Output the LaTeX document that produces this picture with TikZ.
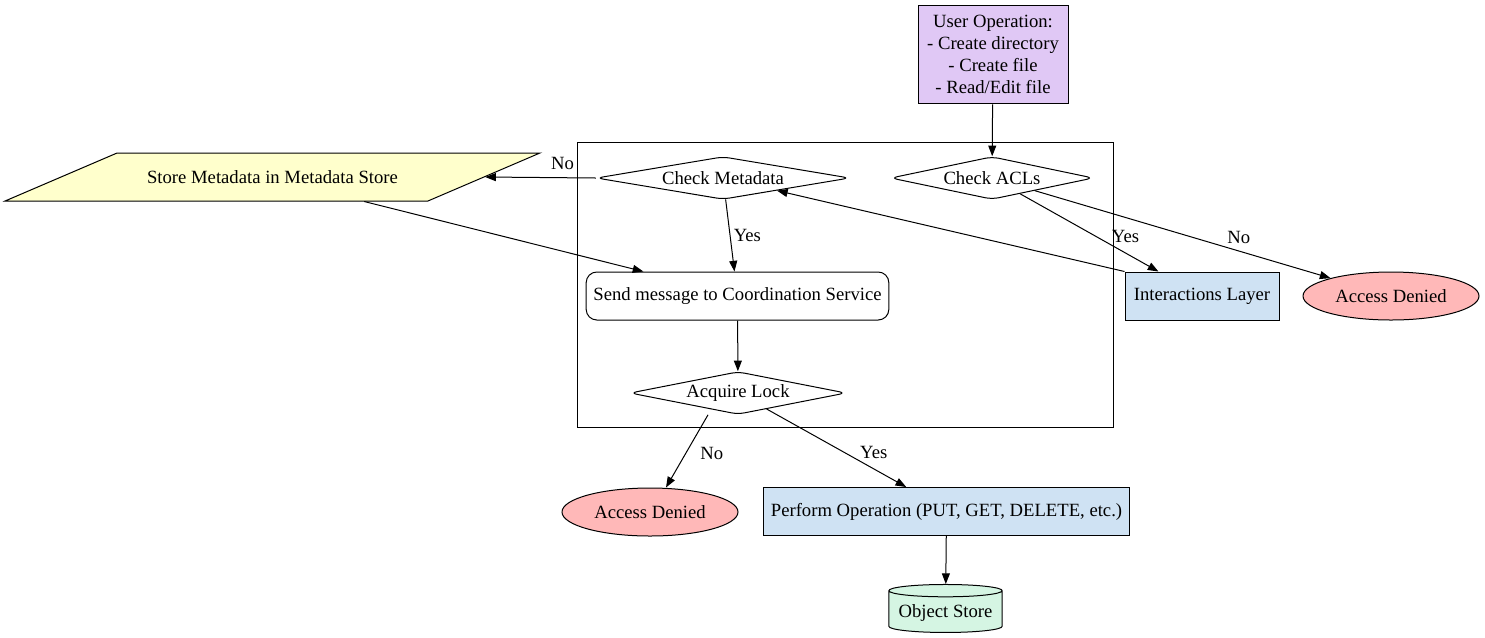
\documentclass[tikz,border=0pt]{standalone}
\usepackage{fontspec}
\setmainfont{Liberation Serif}
\usepackage{tikz}
\usetikzlibrary{arrows.meta,shapes.geometric,calc,positioning}
\definecolor{opviolet}{RGB}{224,200,245}
\definecolor{storeyellow}{RGB}{255,255,204}
\definecolor{layerblue}{RGB}{207,226,243}
\definecolor{deniedred}{RGB}{255,184,184}
\definecolor{objgreen}{RGB}{213,245,227}
\tikzstyle{box}=[rectangle,draw=black,fill=layerblue,minimum height=36pt,inner sep=3pt]
\tikzstyle{decision}=[diamond,draw=black,fill=white,rounded corners=5pt,aspect=6,inner sep=0pt,minimum height=32pt]
\tikzstyle{denied}=[ellipse,draw=black,fill=deniedred,minimum width=132pt,minimum height=36pt,inner sep=0pt]
\tikzstyle{edge}=[draw,line width=0.75pt,-{Triangle[length=8pt,width=6pt]}]
\tikzstyle{weight}=[inner sep=1pt]

\begin{document}
\begin{tikzpicture}[x=0.75pt,y=-0.75pt,line width=0.75pt,font=\fontsize{14}{16.5}\selectfont]
    \useasboundingbox (0,0) rectangle (1485,637);
    % the cluster frame
    \draw (577,142) rectangle (1113,427);
    % First we draw the nodes
    \node[box,fill=opviolet,minimum width=112.5pt,minimum height=74pt,align=center] (user) at (993,54.5)
        {User Operation:\\- Create directory\\- Create file\\- Read/Edit file};
    \node[decision,minimum width=152pt] (acl) at (992,178) {Check ACLs};
    \node[decision,minimum width=190pt] (cmeta) at (723,178) {Check Metadata};
    \node[trapezium,trapezium left angle=23.2,trapezium right angle=156.8,draw=black,fill=storeyellow,
          text height=11.25pt,text depth=2.25pt,inner xsep=22.5pt,inner ysep=11.25pt] (store) at (272.5,177)
        {Store Metadata in Metadata Store};
    \node[rectangle,rounded corners=8pt,draw=black,fill=white,minimum width=227pt,minimum height=36pt] (send) at (737.5,296)
        {Send message to Coordination Service};
    \node[decision,minimum width=162pt] (acq) at (738,393) {Acquire Lock};
    \node[box,minimum width=115.5pt] (inter) at (1202,296) {Interactions Layer};
    \node[denied] (deny1) at (1391,296) {Access Denied};
    \node[denied] (deny2) at (650,512) {Access Denied};
    \node[box,minimum width=274pt] (perf) at (946.5,511.5) {Perform Operation (PUT, GET, DELETE, etc.)};
    \node[cylinder,shape border rotate=90,aspect=0.12,draw=black,fill=objgreen,minimum width=85pt,minimum height=36pt] (obj) at (945.5,613)
        {Object Store};
    % Connect nodes with edges
    \foreach \source/\dest in {user/acl, send/acq, perf/obj}
        \path[edge] (\source) -- (\dest);
    \path[edge] (acl) -- node[weight,pos=0.55,xshift=22pt] {Yes} (inter);
    \path[edge] (acl) -- node[weight,pos=0.69,yshift=10pt] {No} (deny1);
    \path[edge] (inter.north west) -- (cmeta);
    \path[edge] (cmeta.west) -- node[weight,pos=0.3,yshift=10.5pt] {No} (store.east);
    \path[edge] (cmeta) -- node[weight,pos=0.5,xshift=13pt] {Yes} (send);
    \path[edge] ($(store.bottom left corner)!0.85!(store.bottom right corner)$) -- ($(send.north west)!0.19!(send.north east)$);
    \path[edge] ($(acq.south)+(-30,0)$) -- node[weight,pos=0.53,xshift=19.5pt] {No} ($(deny2.north)+(16,0)$);
    \path[edge] (acq) -- node[weight,pos=0.557,xshift=22pt] {Yes} ($(perf.north west)!0.39!(perf.north east)$);
\end{tikzpicture}
\end{document}
